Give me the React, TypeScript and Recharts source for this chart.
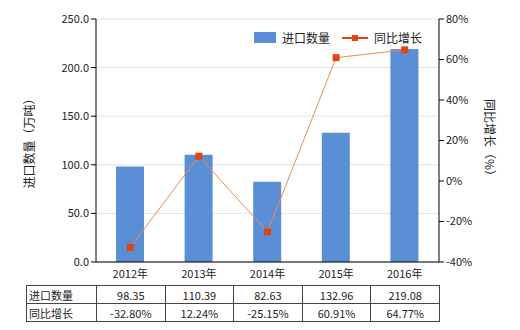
import React from 'react';
import { ComposedChart, Bar, Line, XAxis, YAxis, CartesianGrid } from 'recharts';

const years = ['2012年', '2013年', '2014年', '2015年', '2016年'];
const importQty = [98.35, 110.39, 82.63, 132.96, 219.08];
const yoyGrowth = [-32.8, 12.24, -25.15, 60.91, 64.77];
const leftTicks = [0, 50, 100, 150, 200, 250];
const rightTicks = [-40, -20, 0, 20, 40, 60, 80];

const FONT = '"Noto Sans CJK SC", "Microsoft YaHei", sans-serif';
const BAR_COLOR = '#5A8ED5';
const LINE_COLOR = '#F08848';
const DOT_COLOR = '#DD4511';

const chartData = years.map((year, i) => ({
  year,
  qty: importQty[i],
  yoy: yoyGrowth[i]
}));

// marcador quadrado da linha
const SquareDot = (props: any) => {
  const { cx, cy } = props;
  if (cx == null || cy == null) return null;
  return <rect x={cx - 3.5} y={cy - 3.5} width={7} height={7} fill={DOT_COLOR} />;
};

const tickStyle = { fontSize: 11, fill: '#222', fontFamily: FONT };

export default function App() {
  return (
    <div style={{ position: 'absolute', left: 0, top: 0, width: 520, height: 330, background: '#fff', fontFamily: FONT }}>
      <ComposedChart
        width={520}
        height={285}
        data={chartData}
        margin={{ top: 19, right: 0, bottom: 0, left: 0 }}
        barCategoryGap="30%"
      >
        <CartesianGrid vertical={false} stroke="#E4E4E4" yAxisId="left" />
        <XAxis
          dataKey="year"
          height={23}
          tickLine={false}
          axisLine={{ stroke: '#000' }}
          tick={tickStyle}
          interval={0}
        />
        <YAxis
          yAxisId="left"
          width={96}
          domain={[0, 250]}
          ticks={leftTicks}
          tickFormatter={(v: number) => v.toFixed(1)}
          axisLine={{ stroke: '#000' }}
          tickLine={{ stroke: '#000' }}
          tickSize={5}
          tick={tickStyle}
          label={{
            value: '进口数量（万吨）',
            angle: -90,
            position: 'insideLeft',
            offset: 30,
            style: { fontSize: 12, fill: '#222', fontFamily: FONT, textAnchor: 'middle' }
          }}
        />
        <YAxis
          yAxisId="right"
          orientation="right"
          width={81}
          domain={[-40, 80]}
          ticks={rightTicks}
          tickFormatter={(v: number) => `${v}%`}
          axisLine={{ stroke: '#000' }}
          tickLine={{ stroke: '#000' }}
          tickSize={5}
          tick={tickStyle}
          label={{
            value: '同比增长（%）',
            angle: 90,
            position: 'insideRight',
            offset: 31,
            style: { fontSize: 12, fill: '#222', fontFamily: FONT, textAnchor: 'middle' }
          }}
        />
        <Bar yAxisId="left" dataKey="qty" fill={BAR_COLOR} barSize={28} isAnimationActive={false} />
        <Line
          yAxisId="right"
          dataKey="yoy"
          stroke={LINE_COLOR}
          strokeWidth={1}
          dot={<SquareDot />}
          activeDot={false}
          isAnimationActive={false}
        />
      </ComposedChart>

      {/* legenda */}
      <div style={{ position: 'absolute', left: 254, top: 29, display: 'flex', alignItems: 'center', fontSize: 12, color: '#222' }}>
        <div style={{ width: 22, height: 11, background: BAR_COLOR }} />
        <span style={{ marginLeft: 6 }}>进口数量</span>
        <svg width={26} height={12} style={{ marginLeft: 12 }}>
          <line x1={0} y1={6} x2={26} y2={6} stroke={DOT_COLOR} strokeWidth={2} />
          <rect x={10} y={3} width={6} height={6} fill={DOT_COLOR} />
        </svg>
        <span style={{ marginLeft: 6 }}>同比增长</span>
      </div>

      {/* tabela de dados */}
      <table
        style={{
          position: 'absolute',
          left: 26,
          top: 285,
          width: 414,
          borderCollapse: 'collapse',
          fontSize: 11,
          color: '#222',
          tableLayout: 'fixed'
        }}
      >
        <colgroup>
          <col style={{ width: 70 }} />
          {years.map(y => <col key={y} />)}
        </colgroup>
        <tbody>
          <tr style={{ height: 18 }}>
            <td style={{ border: '1px solid #444', padding: '0 2px', textAlign: 'left' }}>进口数量</td>
            {importQty.map((v, i) => (
              <td key={i} style={{ border: '1px solid #444', padding: 0, textAlign: 'center' }}>{v.toFixed(2)}</td>
            ))}
          </tr>
          <tr style={{ height: 18 }}>
            <td style={{ border: '1px solid #444', padding: '0 2px', textAlign: 'left' }}>同比增长</td>
            {yoyGrowth.map((v, i) => (
              <td key={i} style={{ border: '1px solid #444', padding: 0, textAlign: 'center' }}>{v.toFixed(2)}%</td>
            ))}
          </tr>
        </tbody>
      </table>
    </div>
  );
}
